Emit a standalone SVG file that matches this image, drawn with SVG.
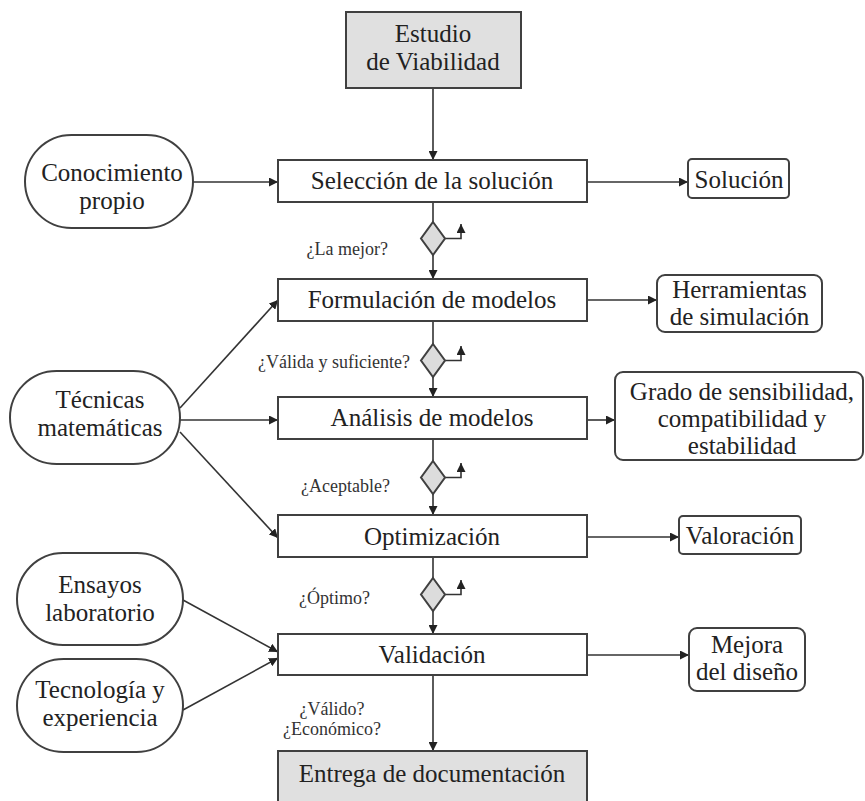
<svg xmlns="http://www.w3.org/2000/svg" width="865" height="801" viewBox="0 0 865 801">
<style>
  .box { fill: #ffffff; stroke: #404040; stroke-width: 2; }
  .gray { fill: #e0e0e0; stroke: #404040; stroke-width: 2; }
  .dia { fill: #dcdcdc; stroke: #404040; stroke-width: 2; }
  .t { font-family: "Liberation Serif", "DejaVu Serif", serif; font-size: 25px; fill: #222; text-anchor: middle; }
  .lbl { font-family: "Liberation Serif", "DejaVu Serif", serif; font-size: 18px; fill: #333; }
  .c { fill: none; stroke: #333; stroke-width: 1.6; }
</style>
<defs>
  <marker id="arr" viewBox="0 0 10 10" refX="10" refY="5" markerWidth="9" markerHeight="9" markerUnits="userSpaceOnUse" orient="auto">
    <path d="M0,0 L10,5 L0,10 z" fill="#222"/>
  </marker>
</defs>
<rect width="865" height="801" fill="#ffffff"/>

<g id="connectors">
  <line class="c" x1="433" y1="88" x2="433" y2="160" marker-end="url(#arr)"/>
  <line class="c" x1="433" y1="202" x2="433" y2="222"/>
  <line class="c" x1="433" y1="255" x2="433" y2="279" marker-end="url(#arr)"/>
  <line class="c" x1="433" y1="321" x2="433" y2="344"/>
  <line class="c" x1="433" y1="377" x2="433" y2="397" marker-end="url(#arr)"/>
  <line class="c" x1="433" y1="439" x2="433" y2="461"/>
  <line class="c" x1="433" y1="494" x2="433" y2="515" marker-end="url(#arr)"/>
  <line class="c" x1="433" y1="557" x2="433" y2="578"/>
  <line class="c" x1="433" y1="611" x2="433" y2="634" marker-end="url(#arr)"/>
  <line class="c" x1="433" y1="675" x2="433" y2="751" marker-end="url(#arr)"/>
  <polyline class="c" points="445,238.5 461,238.5 461,224" marker-end="url(#arr)"/>
  <polyline class="c" points="445,360.5 461,360.5 461,346" marker-end="url(#arr)"/>
  <polyline class="c" points="445,477.5 461,477.5 461,463" marker-end="url(#arr)"/>
  <polyline class="c" points="445,594.5 461,594.5 461,580" marker-end="url(#arr)"/>
  <line class="c" x1="193" y1="182" x2="278" y2="182" marker-end="url(#arr)"/>
  <line class="c" x1="587" y1="182" x2="688" y2="182" marker-end="url(#arr)"/>
  <line class="c" x1="587" y1="300" x2="657" y2="300" marker-end="url(#arr)"/>
  <line class="c" x1="587" y1="420" x2="615" y2="420" marker-end="url(#arr)"/>
  <line class="c" x1="587" y1="537" x2="679" y2="537" marker-end="url(#arr)"/>
  <line class="c" x1="587" y1="655" x2="689" y2="655" marker-end="url(#arr)"/>
  <line class="c" x1="180" y1="408" x2="278" y2="300" marker-end="url(#arr)"/>
  <line class="c" x1="180" y1="420" x2="278" y2="420" marker-end="url(#arr)"/>
  <line class="c" x1="180" y1="432" x2="278" y2="538" marker-end="url(#arr)"/>
  <line class="c" x1="183" y1="600" x2="278" y2="652" marker-end="url(#arr)"/>
  <line class="c" x1="183" y1="710" x2="278" y2="658" marker-end="url(#arr)"/>
</g>

<g id="estudio">
  <rect class="gray" x="346" y="12" width="175" height="76"/>
  <text class="t" x="433" y="42">Estudio</text>
  <text class="t" x="433" y="70">de Viabilidad</text>
</g>
<g id="seleccion">
  <rect class="box" x="278" y="160" width="309" height="42"/>
  <text class="t" x="432" y="189">Selección de la solución</text>
</g>
<g id="conocimiento">
  <rect class="box" x="25" y="135" width="168" height="93" rx="46.5"/>
  <text class="t" x="112" y="181">Conocimiento</text>
  <text class="t" x="112" y="209">propio</text>
</g>
<g id="solucion">
  <rect class="box" x="688" y="159" width="101" height="39" rx="4"/>
  <text class="t" x="739" y="188">Solución</text>
</g>
<g id="d1">
  <polygon class="dia" points="433,222 445,238.5 433,255 421,238.5"/>
</g>
<text class="lbl" x="388" y="255" text-anchor="end">¿La mejor?</text>
<g id="formulacion">
  <rect class="box" x="278" y="279" width="309" height="42"/>
  <text class="t" x="432" y="308">Formulación de modelos</text>
</g>
<g id="herramientas">
  <rect class="box" x="657" y="275" width="165" height="57" rx="8"/>
  <text class="t" x="739.5" y="298">Herramientas</text>
  <text class="t" x="739.5" y="325">de simulación</text>
</g>
<g id="d2">
  <polygon class="dia" points="433,344 445,360.5 433,377 421,360.5"/>
</g>
<text class="lbl" x="410" y="368" text-anchor="end">¿Válida y suficiente?</text>
<g id="tecnicas">
  <rect class="box" x="10" y="371" width="170" height="93" rx="46.5"/>
  <text class="t" x="100" y="408">Técnicas</text>
  <text class="t" x="100" y="436">matemáticas</text>
</g>
<g id="analisis">
  <rect class="box" x="278" y="397" width="309" height="42"/>
  <text class="t" x="432" y="426">Análisis de modelos</text>
</g>
<g id="grado">
  <rect class="box" x="615" y="372" width="248" height="88" rx="8"/>
  <text class="t" x="742" y="400">Grado de sensibilidad,</text>
  <text class="t" x="742" y="427">compatibilidad y</text>
  <text class="t" x="742" y="454">estabilidad</text>
</g>
<g id="d3">
  <polygon class="dia" points="433,461 445,477.5 433,494 421,477.5"/>
</g>
<text class="lbl" x="390" y="492" text-anchor="end">¿Aceptable?</text>
<g id="optimizacion">
  <rect class="box" x="278" y="515" width="309" height="42"/>
  <text class="t" x="432" y="545">Optimización</text>
</g>
<g id="valoracion">
  <rect class="box" x="679" y="516" width="122" height="38" rx="4"/>
  <text class="t" x="740" y="544">Valoración</text>
</g>
<g id="d4">
  <polygon class="dia" points="433,578 445,594.5 433,611 421,594.5"/>
</g>
<text class="lbl" x="370" y="604" text-anchor="end">¿Óptimo?</text>
<g id="ensayos">
  <rect class="box" x="17" y="553" width="166" height="92" rx="46"/>
  <text class="t" x="100" y="593">Ensayos</text>
  <text class="t" x="100" y="621">laboratorio</text>
</g>
<g id="tecnologia">
  <rect class="box" x="17" y="659" width="166" height="93" rx="46.5"/>
  <text class="t" x="100" y="698">Tecnología y</text>
  <text class="t" x="100" y="726">experiencia</text>
</g>
<g id="validacion">
  <rect class="box" x="278" y="634" width="309" height="41"/>
  <text class="t" x="432" y="663">Validación</text>
</g>
<g id="mejora">
  <rect class="box" x="689" y="628" width="116" height="63" rx="8"/>
  <text class="t" x="747" y="653">Mejora</text>
  <text class="t" x="747" y="680">del diseño</text>
</g>
<text class="lbl" x="332" y="715" text-anchor="middle">¿Válido?</text>
<text class="lbl" x="332" y="735" text-anchor="middle">¿Económico?</text>
<g id="entrega">
  <rect class="gray" x="278" y="751" width="309" height="60"/>
  <text class="t" x="432" y="782">Entrega de documentación</text>
</g>
</svg>
